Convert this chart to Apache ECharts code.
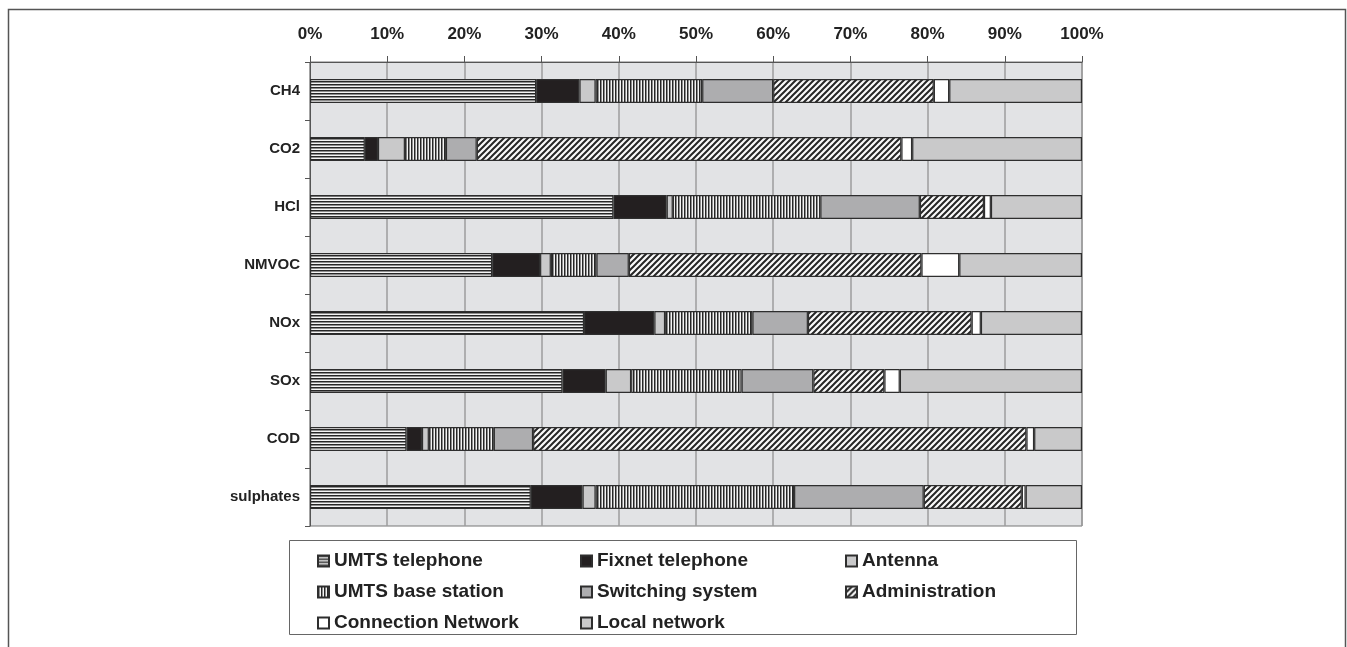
<!DOCTYPE html>
<html>
<head>
<meta charset="utf-8">
<script src="https://cdn.jsdelivr.net/npm/echarts@6/dist/echarts.min.js"></script>
<style>
  html, body { margin: 0; padding: 0; background: #fff; }
  #chart { width: 1347px; height: 647px; }
</style>
</head>
<body>
<div id="chart"></div>
<script>
// data (% of total per substance)
let categories = ['CH4', 'CO2', 'HCl', 'NMVOC', 'NOx', 'SOx', 'COD', 'sulphates'];
let umtsTelephone = [29.3, 7.1, 39.3, 23.6, 35.5, 32.7, 12.5, 28.6];
let fixnetTelephone = [5.6, 1.7, 6.9, 6.2, 9.1, 5.6, 2.0, 6.7];
let antenna = [2.1, 3.5, 0.8, 1.4, 1.4, 3.3, 0.9, 1.7];
let umtsBaseStation = [13.8, 5.3, 19.1, 5.9, 11.3, 14.3, 8.4, 25.7];
let switchingSystem = [9.2, 4.0, 12.9, 4.2, 7.2, 9.3, 5.1, 16.8];
let administration = [20.8, 55.0, 8.3, 37.9, 21.2, 9.2, 63.9, 12.7];
let connectionNetwork = [2.0, 1.4, 0.9, 4.9, 1.2, 2.0, 1.0, 0.5];
let localNetwork = [17.2, 22.0, 11.8, 15.9, 13.1, 23.6, 6.2, 7.3];

// little canvases used as hatch fills
function hatch(kind) {
  let c = document.createElement('canvas');
  let ctx = c.getContext('2d');
  if (kind === 'h') {
    c.width = 4; c.height = 3;
    ctx.fillStyle = '#f4f4f4'; ctx.fillRect(0, 0, 4, 3);
    ctx.fillStyle = '#262626'; ctx.fillRect(0, 0, 4, 1.5);
  } else if (kind === 'v') {
    c.width = 3; c.height = 4;
    ctx.fillStyle = '#f4f4f4'; ctx.fillRect(0, 0, 3, 4);
    ctx.fillStyle = '#262626'; ctx.fillRect(0, 0, 1.5, 4);
  } else {
    c.width = 6; c.height = 6;
    ctx.fillStyle = '#fafafa'; ctx.fillRect(0, 0, 6, 6);
    ctx.strokeStyle = '#262626'; ctx.lineWidth = 2;
    ctx.beginPath();
    ctx.moveTo(-1, 7); ctx.lineTo(7, -1);
    ctx.moveTo(-7, 7); ctx.lineTo(1, -1);
    ctx.moveTo(5, 7); ctx.lineTo(13, -1);
    ctx.stroke();
  }
  return { image: c, repeat: 'repeat' };
}

let chart = echarts.init(document.getElementById('chart'));

function bar(name, data, color) {
  return {
    name: name,
    type: 'bar',
    stack: 'all',
    barWidth: 24,
    data: data,
    itemStyle: { color: color, borderColor: '#2e2e2e', borderWidth: 1.2 },
    emphasis: { disabled: true }
  };
}

let legendText = { fontFamily: 'Liberation Sans, Arial, sans-serif', fontWeight: 'bold', fontSize: 19, color: '#222', lineHeight: 22 };
function legendCol(left, names) {
  return {
    orient: 'vertical',
    left: left,
    top: 545,
    itemWidth: 11,
    itemHeight: 11,
    itemGap: 9,
    icon: 'rect',
    selectedMode: false,
    textStyle: legendText,
    data: names
  };
}

chart.setOption({
  animation: false,
  grid: {
    left: 310, right: 265, top: 62, bottom: 121,
    show: true, backgroundColor: '#e2e3e5', borderColor: '#777', borderWidth: 1
  },
  xAxis: {
    type: 'value',
    position: 'top',
    min: 0, max: 100, interval: 10,
    axisLine: { show: true, lineStyle: { color: '#555' } },
    axisTick: { show: true, length: 6, lineStyle: { color: '#555' } },
    axisLabel: {
      formatter: '{value}%', margin: 19,
      fontFamily: 'Liberation Sans, Arial, sans-serif', fontWeight: 'bold', fontSize: 17, color: '#222'
    },
    splitLine: { show: true, lineStyle: { color: '#9c9c9c', width: 1.5 } }
  },
  yAxis: {
    type: 'category',
    inverse: true,
    data: categories,
    axisLine: { show: true, lineStyle: { color: '#555' } },
    axisTick: { show: true, length: 5, lineStyle: { color: '#555' } },
    axisLabel: {
      margin: 10,
      fontFamily: 'Liberation Sans, Arial, sans-serif', fontWeight: 'bold', fontSize: 15, color: '#222'
    }
  },
  legend: [
    legendCol(312, ['UMTS telephone', 'UMTS base station', 'Connection Network']),
    legendCol(575, ['Fixnet telephone', 'Switching system', 'Local network']),
    legendCol(840, ['Antenna', 'Administration'])
  ],
  graphic: [
    { type: 'rect', shape: { x: 8.5, y: 9.5, width: 1337, height: 700 }, style: { fill: null, stroke: '#555', lineWidth: 1.5 }, silent: true },
    { type: 'rect', shape: { x: 289.5, y: 540.5, width: 787, height: 94 }, style: { fill: null, stroke: '#666', lineWidth: 1 }, silent: true }
  ],
  series: [
    bar('UMTS telephone', umtsTelephone, hatch('h')),
    bar('Fixnet telephone', fixnetTelephone, '#231f20'),
    bar('Antenna', antenna, '#c9c9ca'),
    bar('UMTS base station', umtsBaseStation, hatch('v')),
    bar('Switching system', switchingSystem, '#adadaf'),
    bar('Administration', administration, hatch('d')),
    bar('Connection Network', connectionNetwork, '#ffffff'),
    bar('Local network', localNetwork, '#c9c9ca')
  ]
});
</script>
</body>
</html>
